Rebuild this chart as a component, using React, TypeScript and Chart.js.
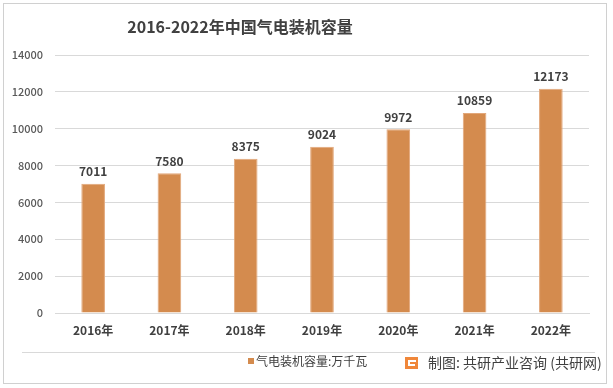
import React, { useEffect, useRef } from "react";
import { Chart, registerables } from "chart.js";

Chart.register(...registerables);

const categories = ["2016年", "2017年", "2018年", "2019年", "2020年", "2021年", "2022年"];
const values = [7011, 7580, 8375, 9024, 9972, 10859, 12173];
const yTicks = [0, 2000, 4000, 6000, 8000, 10000, 12000, 14000];
const title = "2016-2022年中国气电装机容量";
const seriesName = "气电装机容量:万千瓦";
const sourceText = "制图: 共研产业咨询 (共研网)";

const FONT = "'Noto Sans CJK SC', 'Noto Sans', sans-serif";
const BAR = "#D48B4E";
const TEXT = "#404040";

const decorPlugin = {
  id: "decor",
  afterDraw(chart: any) {
    const ctx = chart.ctx;
    ctx.save();
    // outer border
    ctx.strokeStyle = "#d0d0d0";
    ctx.lineWidth = 1;
    ctx.strokeRect(3.5, 3.5, 603, 380);
    // separator
    ctx.strokeStyle = "#d9d9d9";
    ctx.beginPath();
    ctx.moveTo(22, 352.5);
    ctx.lineTo(595, 352.5);
    ctx.stroke();
    // title
    ctx.fillStyle = TEXT;
    ctx.font = `bold 16px ${FONT}`;
    ctx.textAlign = "center";
    ctx.textBaseline = "middle";
    ctx.fillText(title, 240, 27);
    // data labels
    const meta = chart.getDatasetMeta(0);
    ctx.font = `bold 12px ${FONT}`;
    ctx.textBaseline = "bottom";
    meta.data.forEach((bar: any, i: number) => {
      ctx.fillText(String(values[i]), bar.x, bar.y - 6);
    });
    // legend
    ctx.fillStyle = BAR;
    ctx.fillRect(248, 358, 6, 6);
    ctx.fillStyle = TEXT;
    ctx.font = `12px ${FONT}`;
    ctx.textAlign = "left";
    ctx.textBaseline = "middle";
    ctx.fillText(seriesName, 256, 361);
    // logo
    ctx.fillStyle = "#F0873A";
    ctx.fillRect(405, 357, 13, 12);
    ctx.fillStyle = "#ffffff";
    ctx.fillRect(408, 360, 8, 2);
    ctx.fillRect(408, 360, 2, 6);
    ctx.fillRect(408, 364, 7, 2);
    ctx.fillStyle = TEXT;
    ctx.font = `14px ${FONT}`;
    ctx.fillText(sourceText, 428, 363);
    ctx.restore();
  },
};

export default function App() {
  const ref = useRef<HTMLCanvasElement>(null);
  useEffect(() => {
    document.body.style.margin = "0";
    const chart = new Chart(ref.current as HTMLCanvasElement, {
      type: "bar",
      data: {
        labels: categories,
        datasets: [
          {
            label: seriesName,
            data: values,
            backgroundColor: BAR,
            borderColor: "#E2A77A",
            borderWidth: 1,
            barPercentage: 0.62,
            categoryPercentage: 0.5,
          },
        ],
      },
      options: {
        responsive: false,
        animation: false,
        layout: { padding: { top: 55, right: 24, left: 0, bottom: 0 } },
        plugins: {
          legend: { display: false },
          title: { display: false },
          tooltip: { enabled: false },
        },
        scales: {
          x: {
            grid: { display: false, drawTicks: false },
            border: { color: "#d9d9d9" },
            ticks: {
              color: TEXT,
              font: { family: FONT, size: 12, weight: "bold" },
              padding: 10,
            },
            afterFit(scale: any) {
              scale.height = 75;
            },
          },
          y: {
            min: 0,
            max: 14000,
            afterBuildTicks(scale: any) {
              scale.ticks = yTicks.map((v) => ({ value: v }));
            },
            grid: { color: "#d9d9d9", drawTicks: false },
            border: { display: false },
            ticks: {
              color: "#595959",
              font: { family: FONT, size: 11, weight: "500" },
              padding: 12,
              callback: (v: any) => String(v),
            },
            afterFit(scale: any) {
              scale.width = 55;
            },
          },
        },
      },
      plugins: [decorPlugin],
    });
    return () => chart.destroy();
  }, []);
  return <canvas ref={ref} width={613} height={388} style={{ display: "block" }} />;
}
